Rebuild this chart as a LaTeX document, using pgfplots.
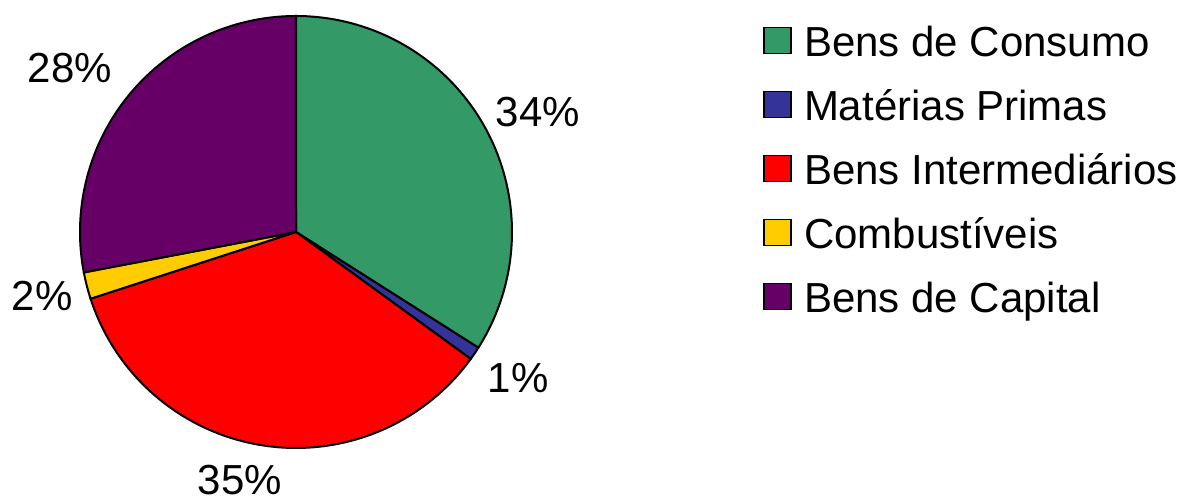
\documentclass[border=0pt]{standalone}
\usepackage{pgfplots}
\pgfplotsset{compat=1.18}
\usepackage{fontspec}
\setmainfont{Liberation Sans}

\definecolor{consumo}{HTML}{339966}
\definecolor{materias}{HTML}{333399}
\definecolor{interm}{HTML}{FF0000}
\definecolor{combust}{HTML}{FFCC00}
\definecolor{capital}{HTML}{660066}

\begin{document}
\begin{tikzpicture}
	\begin{axis}[
		scale only axis,
		width			= 592pt,
		height			= 250.5pt,
		xmin = 0, xmax = 1184,
		ymin = 0, ymax = 501,
		hide axis,
		clip			= false,
		samples			= 90,
		legend image code/.code = {\draw[#1, line width=0.8pt] (0pt,-4pt) rectangle (13.5pt,9pt);},
		legend cell align = left,
		legend style	= {draw=none, fill=none, inner sep=0pt,
			at={(axis cs:763,475)}, anchor=north west,
			font=\fontsize{21}{25}\selectfont,
			nodes={inner sep=0pt, text height=15pt, text depth=4pt},
			row sep=13pt,
			/tikz/every odd column/.append style={column sep=6pt}},
	]
		\path (axis cs:0,0) rectangle (axis cs:1184,501);

		% shares in percent: 34, 1, 35, 2, 28 (clockwise from the top)
		\addplot[fill=consumo, draw=black, line width=1pt, domain={90-3.6*0}:{90-3.6*34}]
			({296+216*cos(x)}, {269+216*sin(x)}) -- (axis cs:296,269) -- cycle;
		\addplot[fill=materias, draw=black, line width=1pt, domain={90-3.6*34}:{90-3.6*35}, samples=10]
			({296+216*cos(x)}, {269+216*sin(x)}) -- (axis cs:296,269) -- cycle;
		\addplot[fill=interm, draw=black, line width=1pt, domain={90-3.6*35}:{90-3.6*70}]
			({296+216*cos(x)}, {269+216*sin(x)}) -- (axis cs:296,269) -- cycle;
		\addplot[fill=combust, draw=black, line width=1pt, domain={90-3.6*70}:{90-3.6*72}, samples=10]
			({296+216*cos(x)}, {269+216*sin(x)}) -- (axis cs:296,269) -- cycle;
		\addplot[fill=capital, draw=black, line width=1pt, domain={90-3.6*72}:{90-3.6*100}]
			({296+216*cos(x)}, {269+216*sin(x)}) -- (axis cs:296,269) -- cycle;

		\legend{Bens de Consumo, Matérias Primas, Bens Intermediários, Combustíveis, Bens de Capital}

		\begin{scope}[every node/.style={font=\fontsize{21}{25}\selectfont, inner sep=0pt}]
			\node at (axis cs:538,389) {34\%};
			\node at (axis cs:518,123) {1\%};
			\node at (axis cs:240,21) {35\%};
			\node at (axis cs:42,205) {2\%};
			\node at (axis cs:70,433) {28\%};
		\end{scope}
	\end{axis}
\end{tikzpicture}
\end{document}
